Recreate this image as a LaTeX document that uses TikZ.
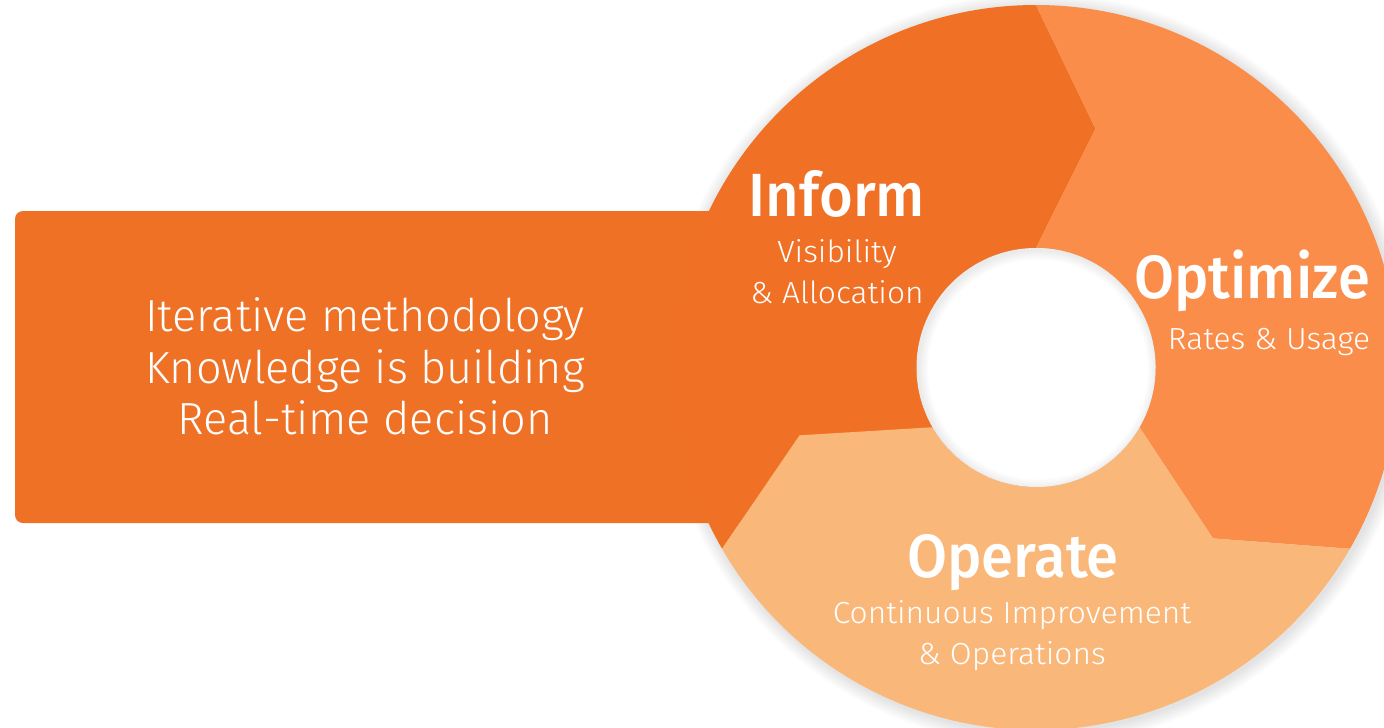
\documentclass[tikz,border=0pt]{standalone}
\usepackage{fontspec}
\usetikzlibrary{calc}
\newfontfamily\titlefont{Fira Sans Medium}[FakeStretch=0.95]
\newfontfamily\subfont{Fira Sans Light}[FakeStretch=1.04]
\newfontfamily\leftfont{Fira Sans Light}
\definecolor{informc}{HTML}{F07126}
\definecolor{rectc}{HTML}{EF7125}
\definecolor{optimc}{HTML}{FA8D4A}
\definecolor{operc}{HTML}{F9B87A}
\tikzset{
  titletxt/.style={text=white, anchor=base, inner sep=0pt, font=\titlefont\fontsize{61}{61}\selectfont},
  subtxt/.style={text=white, anchor=base, inner sep=0pt, font=\subfont\fontsize{30.5}{30.5}\selectfont},
  lefttxt/.style={text=white, anchor=base, inner sep=0pt, font=\leftfont\fontsize{45}{45}\selectfont},
}
\begin{document}
\begin{tikzpicture}[x=1pt,y=1pt]
\useasboundingbox (0,0) rectangle (1384,-728);
\def\R{362.5}
\def\r{119.5}
\def\m{246}
\coordinate (C) at (1036,-367.5);
% outer soft shadow
\foreach \k in {1,...,14}{
  \fill[black,opacity=0.007] ($(C)+(2,-2)$) circle[radius=\R+\k];
}
% left box
\fill[rectc,rounded corners=8] (15,-211) rectangle (1036,-523);
% segments
\fill[informc] ($(C)+(90:\R)$) arc[start angle=90,end angle=210,radius=\R]
  -- ($(C)+(196:\m)$) -- ($(C)+(210:\r)$) arc[start angle=210,end angle=90,radius=\r]
  -- ($(C)+(76:\m)$) -- cycle;
\fill[optimc] ($(C)+(90:\R)$) arc[start angle=90,end angle=-30,radius=\R]
  -- ($(C)+(-44:\m)$) -- ($(C)+(-30:\r)$) arc[start angle=-30,end angle=90,radius=\r]
  -- ($(C)+(76:\m)$) -- cycle;
\fill[operc] ($(C)+(-30:\R)$) arc[start angle=-30,end angle=-150,radius=\R]
  -- ($(C)+(196:\m)$) -- ($(C)+(210:\r)$) arc[start angle=-150,end angle=-30,radius=\r]
  -- ($(C)+(-44:\m)$) -- cycle;
% inner hole
\fill[white] (C) circle[radius=\r];
\begin{scope}
  \clip (C) circle[radius=\r];
  \foreach \k in {1,...,10}{
    \fill[black,opacity=0.008,even odd rule] ($(C)+(2,-2)$) circle[radius=\r+30] circle[radius=\r-\k];
  }
\end{scope}
% texts
\node[lefttxt] (l1) at (365,-331.7) {Iterative methodology};
\node[lefttxt] (l2) at (365,-383.3) {Knowledge is building};
\node[lefttxt] (l3) at (365,-434.3) {Real-time decision};
\node[titletxt] (inform) at (837,-216) {Inform};
\node[subtxt] (inf1) at (837,-262) {Visibility};
\node[subtxt] (inf2) at (837,-303) {\& Allocation};
\node[titletxt] (optim) at (1252,-298) {Optimize};
\node[subtxt] (opt1) at (1269,-349) {Rates \& Usage};
\node[titletxt] (oper) at (1013,-577) {Operate};
\node[subtxt] (ope1) at (1012,-623) {Continuous Improvement};
\node[subtxt] (ope2) at (1012,-664) {\& Operations};
\end{tikzpicture}
\end{document}
